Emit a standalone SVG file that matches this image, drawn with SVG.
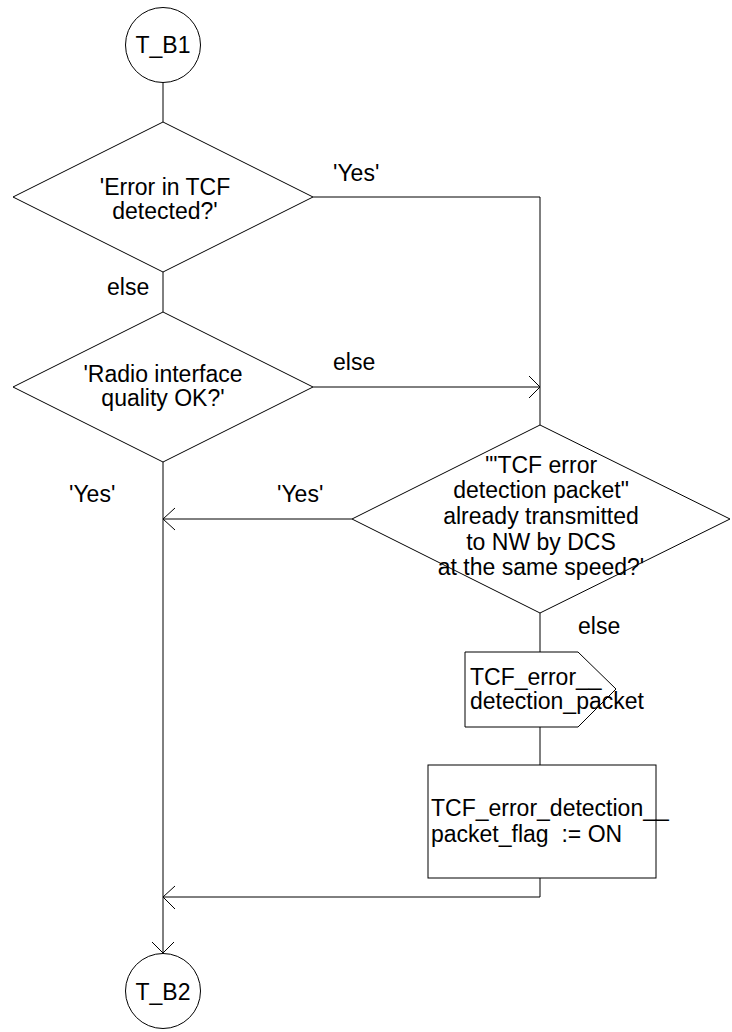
<svg xmlns="http://www.w3.org/2000/svg" width="732" height="1032" viewBox="0 0 732 1032">
<style>
.s{fill:#fff;stroke:#000;stroke-width:1}
.l{fill:none;stroke:#000;stroke-width:1}
text{font-family:"Liberation Sans",Arial,sans-serif;font-size:23px;fill:#000}
.c{text-anchor:middle}
.p{white-space:pre}
</style>
<rect width="732" height="1032" fill="#fff"/>
<g id="connectors">
<path class="l" d="M163,82 V122"/>
<path class="l" d="M313,197 H540 V425"/>
<path class="l" d="M163,272 V312"/>
<path class="l" d="M313,387 H540"/>
<path class="l" d="M529,376 L540,387 L529,398"/>
<path class="l" d="M352,519 H163"/>
<path class="l" d="M175,508 L163,519 L175,530"/>
<path class="l" d="M163,462 V953"/>
<path class="l" d="M152,942 L163,953 L174,942"/>
<path class="l" d="M540,613 V652"/>
<path class="l" d="M540,727 V765"/>
<path class="l" d="M540,878 V897 H163"/>
<path class="l" d="M175,886 L163,897 L175,909"/>
<text x="333" y="181">'Yes'</text>
<text x="107" y="295">else</text>
<text x="333" y="370">else</text>
<text x="69" y="502">'Yes'</text>
<text x="277" y="502">'Yes'</text>
<text x="578" y="634">else</text>
</g>
<g id="T_B1">
<circle class="s" cx="163" cy="45" r="37.5"/>
<text class="c" x="163" y="53">T_B1</text>
</g>
<g id="d1">
<polygon class="s" points="163,122 313,197 163,272 13,197"/>
<text class="c" x="165" y="195">'Error in TCF</text>
<text class="c" x="165" y="219">detected?'</text>
</g>
<g id="d2">
<polygon class="s" points="163,312 313,387 163,462 13,387"/>
<text class="c" x="163" y="382">'Radio interface</text>
<text class="c" x="163" y="406">quality OK?'</text>
</g>
<g id="d3">
<polygon class="s" points="540,425 730,519 540,613 352,519"/>
<text class="c" x="541" y="473">'"TCF error</text>
<text class="c" x="541" y="498">detection packet"</text>
<text class="c" x="541" y="524">already transmitted</text>
<text class="c" x="541" y="550">to NW by DCS</text>
<text class="c" x="541" y="575">at the same speed?'</text>
</g>
<g id="signal">
<polygon class="s" points="465,652 578,652 616,689 578,727 465,727"/>
<text x="470" y="685">TCF_error__</text>
<text x="470" y="709">detection_packet</text>
</g>
<g id="task">
<rect class="s" x="428" y="765" width="228" height="113"/>
<text x="431" y="816">TCF_error_detection__</text>
<text class="p" x="431" y="842">packet_flag  := ON</text>
</g>
<g id="T_B2">
<circle class="s" cx="163" cy="991" r="37.5"/>
<text class="c" x="163" y="1000">T_B2</text>
</g>
</svg>
